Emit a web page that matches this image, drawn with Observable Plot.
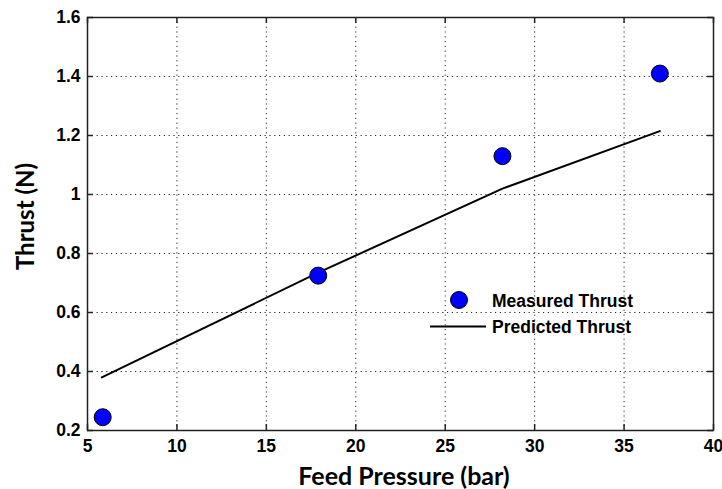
<!DOCTYPE html>
<html>
<head>
<meta charset="utf-8">
<script src="https://cdn.jsdelivr.net/npm/d3@7"></script>
<script src="https://cdn.jsdelivr.net/npm/@observablehq/plot@0.6"></script>
<style>
  html, body { margin: 0; padding: 0; background: #fff; }
  #wrap { position: relative; width: 722px; height: 489px; }
  #wrap svg text { font-weight: 700 !important; }
  #legend { position: absolute; left: 0; top: 0; pointer-events: none; }
</style>
</head>
<body>
<div id="wrap"></div>
<script>
// Data
const measuredPressure = [5.85, 17.9, 28.2, 37.0];
const measuredThrust   = [0.245, 0.725, 1.13, 1.41];
const predictedPressure = [5.8, 17.9, 28.2, 37.0];
const predictedThrust   = [0.38, 0.735, 1.02, 1.215];
const xTicks = [5, 10, 15, 20, 25, 30, 35, 40];
const yTicks = [0.2, 0.4, 0.6, 0.8, 1, 1.2, 1.4, 1.6];
const xLabel = "Feed Pressure (bar)";
const yLabel = "Thrust (N)";
const legendLabels = ["Measured Thrust", "Predicted Thrust"];

const measured = measuredPressure.map((p, i) => ({p, t: measuredThrust[i]}));
const predicted = predictedPressure.map((p, i) => ({p, t: predictedThrust[i]}));

const tickFont = "'Liberation Sans', Arial, sans-serif";
const titleFont = "Lato, 'Open Sans', sans-serif";
const fmt = d => String(d);
const gridStyle = {stroke: "#000", strokeOpacity: 0.85, strokeWidth: 1, strokeDasharray: "1.2,3.6"};

const W = 722, H = 489, ML = 87, MR = 9, MT = 17, MB = 59, TICK = 6;
const frameW = W - ML - MR, frameH = H - MT - MB;

const chart = Plot.plot({
  width: W,
  height: H,
  marginLeft: ML,
  marginRight: MR,
  marginTop: MT,
  marginBottom: MB,
  x: {domain: [5, 40]},
  y: {domain: [0.2, 1.6]},
  style: {fontFamily: tickFont, fontWeight: "bold", fontSize: "17.5px", color: "#000", background: "#fff"},
  marks: [
    Plot.gridX(xTicks.slice(1, -1), gridStyle),
    Plot.gridY(yTicks.slice(1, -1), gridStyle),
    Plot.axisX(xTicks, {anchor: "bottom", tickSize: 0, tickPadding: 9, tickFormat: fmt, label: null, fontWeight: "bold"}),
    Plot.axisY(yTicks, {anchor: "left", tickSize: 0, tickPadding: 7, tickFormat: fmt, label: null, fontWeight: "bold"}),
    // inward tick marks on all four sides
    Plot.ruleX(xTicks, {insetTop: frameH - TICK, stroke: "#222", strokeWidth: 1.5}),
    Plot.ruleX(xTicks, {insetBottom: frameH - TICK, stroke: "#222", strokeWidth: 1.5}),
    Plot.ruleY(yTicks, {insetRight: frameW - TICK, stroke: "#222", strokeWidth: 1.5}),
    Plot.ruleY(yTicks, {insetLeft: frameW - TICK, stroke: "#222", strokeWidth: 1.5}),
    Plot.frame({stroke: "#222", strokeWidth: 1.5}),
    Plot.line(predicted, {x: "p", y: "t", stroke: "#000", strokeWidth: 2}),
    Plot.dot(measured, {x: "p", y: "t", r: 8.5, fill: "#0000ff", stroke: "#000", strokeWidth: 1}),
    Plot.text([xLabel], {frameAnchor: "bottom", dx: 3.5, dy: 46, text: d => d, fontFamily: titleFont, fontSize: 25, fontWeight: "bold", textAnchor: "middle", lineAnchor: "middle"}),
    Plot.text([yLabel], {frameAnchor: "left", dx: -61, dy: -7.5, rotate: -90, text: d => d, fontFamily: titleFont, fontSize: 24, fontWeight: "bold", textAnchor: "middle", lineAnchor: "middle"})
  ]
});

const wrap = document.getElementById("wrap");
wrap.appendChild(chart);

// Legend overlay
const svgNS = "http://www.w3.org/2000/svg";
const leg = document.createElementNS(svgNS, "svg");
leg.setAttribute("id", "legend");
leg.setAttribute("width", W);
leg.setAttribute("height", H);
const c = document.createElementNS(svgNS, "circle");
c.setAttribute("cx", 459); c.setAttribute("cy", 300); c.setAttribute("r", 8.5);
c.setAttribute("fill", "#0000ff"); c.setAttribute("stroke", "#000"); c.setAttribute("stroke-width", 1);
leg.appendChild(c);
const l = document.createElementNS(svgNS, "line");
l.setAttribute("x1", 430); l.setAttribute("x2", 486); l.setAttribute("y1", 326.5); l.setAttribute("y2", 326.5);
l.setAttribute("stroke", "#000"); l.setAttribute("stroke-width", 2);
leg.appendChild(l);
legendLabels.forEach((s, i) => {
  const t = document.createElementNS(svgNS, "text");
  t.setAttribute("x", 492);
  t.setAttribute("y", 307 + i * 26);
  t.setAttribute("font-family", tickFont);
  t.setAttribute("font-weight", "bold");
  t.setAttribute("font-size", "17.5px");
  t.textContent = s;
  leg.appendChild(t);
});
wrap.appendChild(leg);
</script>
</body>
</html>
